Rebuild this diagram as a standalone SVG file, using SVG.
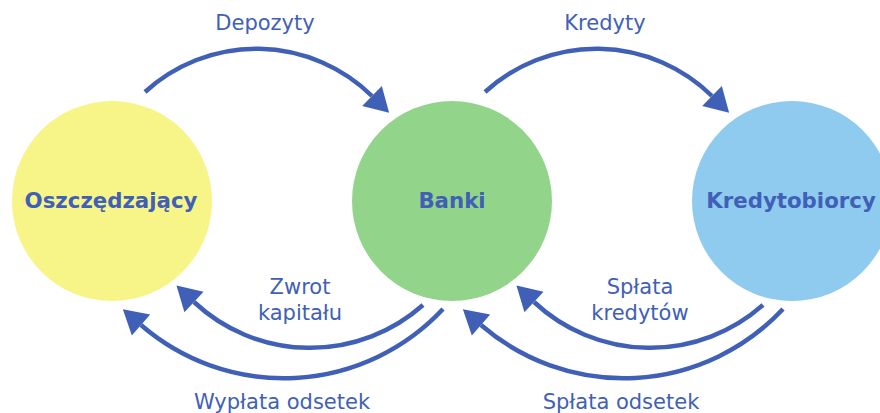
<svg xmlns="http://www.w3.org/2000/svg" width="880" height="413" viewBox="0 0 880 413">
<style>
.lbl{font-family:"DejaVu Sans",sans-serif;font-size:21px;fill:#4060b8;text-anchor:middle}
.node{font-family:"DejaVu Sans",sans-serif;font-size:21.3px;font-weight:bold;fill:#4060b8;text-anchor:middle}
.arr{fill:none;stroke:#4060b8;stroke-width:4.5;marker-end:url(#ah)}
</style>
<defs>
<marker id="ah" markerUnits="userSpaceOnUse" markerWidth="30" markerHeight="30" viewBox="0 -15 26 30" refX="0" refY="0" orient="auto">
<path d="M0,-14 L24,0 L0,14 z" fill="#4060b8"/>
</marker>
</defs>
<rect width="880" height="413" fill="#ffffff"/>
<g id="oszczedzajacy">
<circle cx="112" cy="201" r="100" fill="#f7f588"/>
<text class="node" x="111" y="208">Oszczędzający</text>
</g>
<g id="banki">
<circle cx="452" cy="201" r="100" fill="#93d48b"/>
<text class="node" x="452" y="208">Banki</text>
</g>
<g id="kredytobiorcy">
<circle cx="792" cy="201" r="100" fill="#8fcbef"/>
<text class="node" x="791" y="208">Kredytobiorcy</text>
</g>
<g id="connectors">
<path class="arr" d="M145,92 A165,165 0 0 1 372,96"/>
<path class="arr" d="M485,92 A165,165 0 0 1 712,96"/>
<path class="arr" d="M423,305 A170,170 0 0 1 194,302"/>
<path class="arr" d="M443,309 A218,218 0 0 1 141,325"/>
<path class="arr" d="M763,305 A170,170 0 0 1 534,302"/>
<path class="arr" d="M783,309 A218,218 0 0 1 481,325"/>
</g>
<g id="labels">
<text class="lbl" x="265" y="30">Depozyty</text>
<text class="lbl" x="605" y="30">Kredyty</text>
<text class="lbl" x="300" y="294">Zwrot</text>
<text class="lbl" x="300" y="320">kapitału</text>
<text class="lbl" x="640" y="294">Spłata</text>
<text class="lbl" x="640" y="320">kredytów</text>
<text class="lbl" x="282" y="409">Wypłata odsetek</text>
<text class="lbl" x="621" y="409">Spłata odsetek</text>
</g>
</svg>
